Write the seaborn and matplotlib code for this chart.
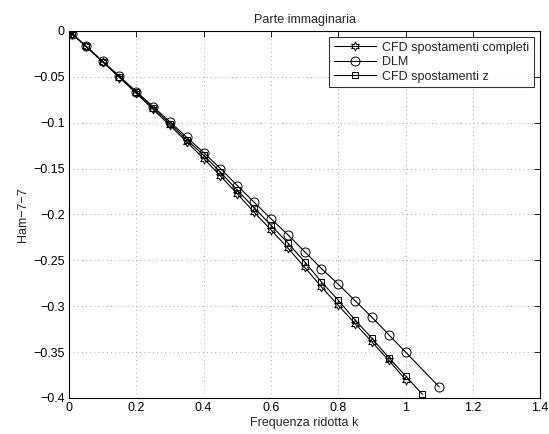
import matplotlib
matplotlib.use("Agg")
import matplotlib.pyplot as plt
import matplotlib.ticker as mticker
import seaborn as sns
import pandas as pd

# Reduced frequency samples
k_cfd_full = [0, 0.01, 0.05, 0.10, 0.15, 0.20, 0.25, 0.30, 0.35, 0.40, 0.45, 0.50,
              0.55, 0.60, 0.65, 0.70, 0.75, 0.80, 0.85, 0.90, 0.95, 1.00]
k_dlm = [0, 0.01, 0.05, 0.10, 0.15, 0.20, 0.25, 0.30, 0.35, 0.40, 0.45, 0.50,
         0.55, 0.60, 0.65, 0.70, 0.75, 0.80, 0.85, 0.90, 0.95, 1.00, 1.10]
k_cfd_z = [0, 0.01, 0.05, 0.10, 0.15, 0.20, 0.25, 0.30, 0.35, 0.40, 0.45, 0.50,
           0.55, 0.60, 0.65, 0.70, 0.75, 0.80, 0.85, 0.90, 0.95, 1.00, 1.05]

# Imaginary part of Ham 7-7
ham_cfd_full = [0, -0.0033, -0.0168, -0.0338, -0.0508, -0.068, -0.0855, -0.103,
                -0.121, -0.139, -0.158, -0.1775, -0.1976, -0.2167, -0.2365,
                -0.2575, -0.279, -0.299, -0.319, -0.339, -0.359, -0.380]
ham_dlm = [0, -0.0033, -0.0165, -0.033, -0.0495, -0.066, -0.0825, -0.099,
           -0.116, -0.1325, -0.150, -0.1685, -0.1866, -0.2047, -0.222,
           -0.2405, -0.259, -0.276, -0.294, -0.312, -0.331, -0.350, -0.388]
ham_cfd_z = [0, -0.0033, -0.0166, -0.0333, -0.0501, -0.067, -0.084, -0.101,
             -0.1185, -0.1355, -0.154, -0.1735, -0.1926, -0.2117, -0.231,
             -0.2515, -0.2735, -0.2935, -0.315, -0.335, -0.356, -0.376, -0.396]

series_names = ["CFD spostamenti completi", "DLM", "CFD spostamenti z"]

sns.set_style("white")
plt.rcParams["font.family"] = ["Liberation Sans", "DejaVu Sans"]
plt.rcParams["axes.unicode_minus"] = True

fig = plt.figure(figsize=(5.49, 4.34), dpi=100)
ax = fig.add_axes([0.1257, 0.083, 0.8583, 0.8456])

styles = [
    (k_cfd_full, ham_cfd_full, (6, 1, 0), 6.5),
    (k_dlm, ham_dlm, "o", 6.5),
    (k_cfd_z, ham_cfd_z, "s", 5.0),
]
for name, (k, h, mk, ms) in zip(series_names, styles):
    df = pd.DataFrame({"k": k, "ham": h})
    sns.lineplot(data=df, x="k", y="ham", ax=ax, color="black", lw=0.8,
                 marker=mk, markersize=ms, markerfacecolor="none",
                 markeredgecolor="black", markeredgewidth=0.7,
                 label=name, sort=False, estimator=None)

ax.set_xlim(0, 1.4)
ax.set_ylim(-0.4, 0)
ax.set_xticks([0, 0.2, 0.4, 0.6, 0.8, 1.0, 1.2, 1.4])
ax.set_yticks([0, -0.05, -0.1, -0.15, -0.2, -0.25, -0.3, -0.35, -0.4])
ax.xaxis.set_major_formatter(mticker.FuncFormatter(lambda v, p: f"{v:g}"))
ax.yaxis.set_major_formatter(
    mticker.FuncFormatter(lambda v, p: f"{v:g}".replace("-", "\u2212")))
ax.tick_params(direction="in", length=4, width=0.6, labelsize=9,
               top=True, right=True, colors="black", pad=3)
ax.grid(True, linestyle=(0, (1, 4)), color="#999999", linewidth=0.6)
for s in ax.spines.values():
    s.set_visible(True)
    s.set_color("black")
    s.set_linewidth(0.8)

ax.set_title("Parte immaginaria", fontsize=9, pad=6)
ax.set_xlabel("Frequenza ridotta k", fontsize=9, labelpad=2)
ax.set_ylabel("Ham\u22127\u22127", fontsize=9, labelpad=3)

leg = ax.legend(loc="upper right", fontsize=9, frameon=True, fancybox=False,
                edgecolor="black", borderaxespad=0.5, handlelength=3.4,
                labelspacing=0.2, borderpad=0.35, handletextpad=0.5)
leg.get_frame().set_linewidth(0.8)

fig.savefig("out.png", dpi=100)
